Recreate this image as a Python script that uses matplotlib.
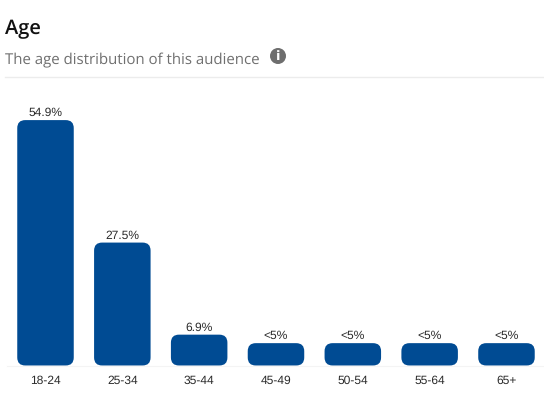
"""Age distribution bar card, rounded bars on a 544x396 canvas."""
import matplotlib
matplotlib.use("Agg")
import matplotlib.pyplot as plt
from matplotlib.lines import Line2D
from matplotlib.patches import Circle, FancyBboxPatch

plt.rcParams["text.hinting"] = "none"
plt.rcParams["text.hinting_factor"] = 1

W, H = 544, 396
BLUE = "#004b93"
LABEL = "#2b2b2b"

categories = ["18-24", "25-34", "35-44", "45-49", "50-54", "55-64", "65+"]
values = [54.9, 27.5, 6.9, 5.0, 5.0, 5.0, 5.0]
value_labels = ["54.9%", "27.5%", "6.9%", "<5%", "<5%", "<5%", "<5%"]

# pixel layout of the plot area
STEP = 76.83
PLOT_L = 45.5 - STEP / 2
PLOT_B = 365.5
PLOT_T = 100.0
YMAX = (PLOT_B - PLOT_T) / 4.47
RADIUS = 8.0

fig = plt.figure(figsize=(W / 100, H / 100), dpi=100, facecolor="white")

# overlay in pixel coordinates for the header
bg = fig.add_axes([0, 0, 1, 1])
bg.set_xlim(0, W)
bg.set_ylim(H, 0)
bg.axis("off")

bg.text(5, 29, "Age", fontsize=14.2, family="Open Sans", fontweight="semibold",
        color="#111111", ha="left", va="center")
bg.text(5, 60, "The age distribution of this audience", fontsize=11.03,
        family="Open Sans", color="#6f6f6f", ha="left", va="center")
bg.add_patch(Circle((278, 56), 8, facecolor="#6e6e6e", edgecolor="none"))
bg.text(278, 56, "i", fontsize=9, family="DejaVu Sans", fontweight="bold",
        color="white", ha="center", va="center")
bg.add_line(Line2D([5, 544], [77, 77], color="#ececec", linewidth=1))

ax = fig.add_axes([PLOT_L / W, 1 - PLOT_B / H, STEP * 7 / W, (PLOT_B - PLOT_T) / H])
ax.patch.set_alpha(0)
ax.set_xlim(-0.5, 6.5)
ax.set_ylim(0, YMAX)
for side in ["top", "right", "left"]:
    ax.spines[side].set_visible(False)
ax.spines["bottom"].set_color("#f4f4f4")
ax.set_yticks([])
ax.set_xticks(range(len(categories)))
ax.set_xticklabels(categories, fontsize=8.8, family="Liberation Sans", color=LABEL)
ax.tick_params(axis="x", length=0, pad=7)

bars = ax.bar(range(len(categories)), values, width=56.5 / STEP, color="none")

# swap each bar for a rounded box of the same geometry
px_x = STEP
px_y = 4.47
for bar, lab in zip(bars, value_labels):
    ax.add_patch(FancyBboxPatch(
        (bar.get_x(), 0), bar.get_width(), bar.get_height(),
        boxstyle=f"round,pad=0,rounding_size={RADIUS / px_x}",
        mutation_aspect=px_x / px_y, facecolor=BLUE, edgecolor="none",
        clip_on=False))
    ax.annotate(lab, (bar.get_x() + bar.get_width() / 2, bar.get_height()),
                xytext=(0, 1), textcoords="offset points", ha="center",
                va="bottom", fontsize=8.8, family="Liberation Sans", color=LABEL)

fig.savefig("out.png", dpi=100, facecolor="white")
